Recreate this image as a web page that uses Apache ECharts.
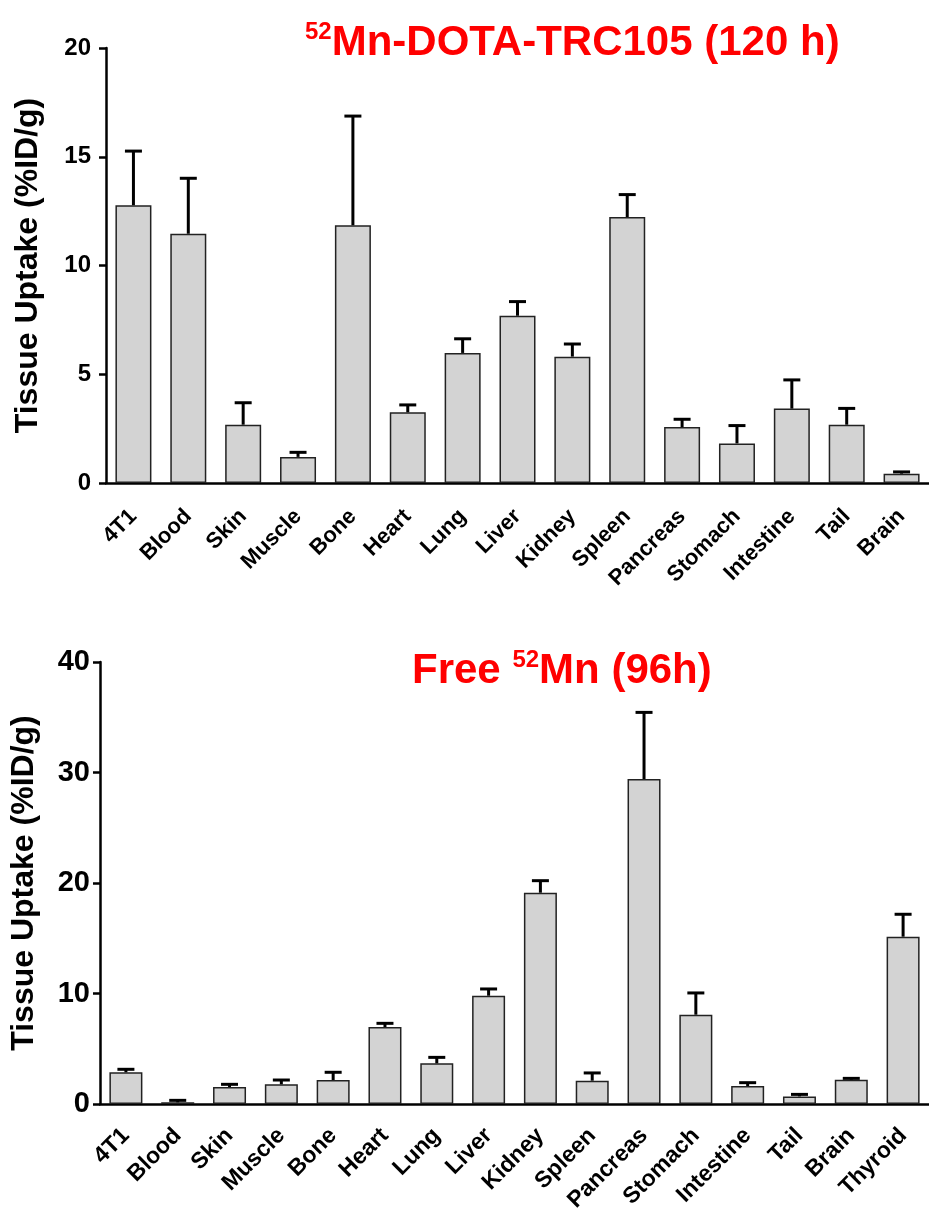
<!DOCTYPE html>
<html>
<head>
<meta charset="utf-8">
<script src="https://cdn.jsdelivr.net/npm/echarts@6/dist/echarts.min.js"></script>
<style>
  html, body { margin: 0; padding: 0; background: #fff; }
  #chart { width: 929px; height: 1216px; }
</style>
</head>
<body>
<div id="chart"></div>
<script>
  // == top panel: 52Mn-DOTA-TRC105 (120 h) ==
  const topOrgans = ['4T1', 'Blood', 'Skin', 'Muscle', 'Bone', 'Heart', 'Lung', 'Liver', 'Kidney', 'Spleen', 'Pancreas', 'Stomach', 'Intestine', 'Tail', 'Brain'];
  const topMean = [12.77, 11.46, 2.68, 1.20, 11.85, 3.25, 5.98, 7.69, 5.81, 12.23, 2.57, 1.82, 3.42, 2.68, 0.43];
  const topErr = [2.49, 2.55, 1.01, 0.21, 5.02, 0.34, 0.65, 0.65, 0.58, 1.03, 0.36, 0.82, 1.32, 0.75, 0.08];
  const topTicks = [0, 5, 10, 15, 20];

  // == bottom panel: Free 52Mn (96h) ==
  const botOrgans = ['4T1', 'Blood', 'Skin', 'Muscle', 'Bone', 'Heart', 'Lung', 'Liver', 'Kidney', 'Spleen', 'Pancreas', 'Stomach', 'Intestine', 'Tail', 'Brain', 'Thyroid'];
  const botMean = [2.87, 0.15, 1.54, 1.78, 2.17, 6.97, 3.68, 9.80, 19.12, 2.11, 29.41, 8.08, 1.63, 0.69, 2.20, 15.14];
  const botErr = [0.27, 0.18, 0.24, 0.39, 0.70, 0.33, 0.54, 0.61, 1.09, 0.70, 6.03, 1.97, 0.30, 0.18, 0.12, 2.03];
  const botTicks = [0, 10, 20, 30, 40];

  const FONT = 'Liberation Sans';
  const yName = 'Tissue Uptake (%ID/g)';

  var myChart = echarts.init(document.getElementById('chart'));

  // == [index, mean, mean + error] for the error bars ==
  function errData(mean, err) {
    return mean.map((m, i) => [i, m, m + err[i]]);
  }

  function renderErr(params, api) {
    const i = api.value(0);
    const p0 = api.coord([i, api.value(1)]);
    const p1 = api.coord([i, api.value(2)]);
    const half = 8.5;
    const style = { stroke: '#000', lineWidth: 3 };
    return {
      type: 'group',
      children: [
        { type: 'line', shape: { x1: p0[0], y1: p0[1], x2: p1[0], y2: p1[1] }, style: style },
        { type: 'line', shape: { x1: p1[0] - half, y1: p1[1], x2: p1[0] + half, y2: p1[1] }, style: style },
      ],
    };
  }

  function xAxisOpt(idx, data, size, margin) {
    return {
      type: 'category',
      gridIndex: idx,
      data: data,
      axisLine: { lineStyle: { color: '#000', width: 2.5 } },
      axisTick: { alignWithLabel: true, length: 7, lineStyle: { color: '#000', width: 2.5 } },
      axisLabel: {
        rotate: 45,
        interval: 0,
        margin: margin,
        color: '#000',
        fontFamily: FONT,
        fontWeight: 'bold',
        fontSize: size,
      },
    };
  }

  function yAxisOpt(idx, ticks, gap, size, margin) {
    return {
      type: 'value',
      gridIndex: idx,
      min: ticks[0],
      max: ticks[ticks.length - 1],
      interval: ticks[1] - ticks[0],
      name: yName,
      nameLocation: 'middle',
      nameRotate: 90,
      nameGap: gap,
      nameTextStyle: { color: '#000', fontFamily: FONT, fontWeight: 'bold', fontSize: 32 },
      splitLine: { show: false },
      axisLine: { show: true, lineStyle: { color: '#000', width: 2.5 } },
      axisTick: { show: true, length: 7, lineStyle: { color: '#000', width: 2.5 } },
      axisLabel: { margin: margin, color: '#000', fontFamily: FONT, fontWeight: 'bold', fontSize: size },
    };
  }

  const titleRich = {
    sup: { fontSize: 24, fontWeight: 'bold', fill: '#f00', fontFamily: FONT, verticalAlign: 'top', lineHeight: 46 },
    main: { fontSize: 42, fontWeight: 'bold', fill: '#f00', fontFamily: FONT, lineHeight: 46 },
  };

  const option = {
    animation: false,
    backgroundColor: '#fff',
    graphic: [
      {
        type: 'text',
        left: 305,
        top: 20,
        style: { text: '{sup|52}{main|Mn-DOTA-TRC105 (120 h)}', rich: titleRich },
      },
      {
        type: 'text',
        left: 412,
        top: 648,
        style: { text: '{main|Free }{sup|52}{main|Mn (96h)}', rich: titleRich },
      },
    ],
    grid: [
      { left: 106, top: 48, width: 830, height: 435 },
      { left: 100, top: 662, width: 835, height: 442 },
    ],
    xAxis: [xAxisOpt(0, topOrgans, 22, 30), xAxisOpt(1, botOrgans, 23, 28)],
    yAxis: [yAxisOpt(0, topTicks, 62, 24, 15), yAxisOpt(1, botTicks, 60, 29, 10)],
    series: [
      {
        type: 'bar',
        xAxisIndex: 0,
        yAxisIndex: 0,
        data: topMean,
        barWidth: 36,
        itemStyle: { color: '#d3d3d3', borderColor: '#222', borderWidth: 1.5 },
      },
      {
        type: 'custom',
        xAxisIndex: 0,
        yAxisIndex: 0,
        data: errData(topMean, topErr),
        renderItem: renderErr,
        z: 3,
      },
      {
        type: 'bar',
        xAxisIndex: 1,
        yAxisIndex: 1,
        data: botMean,
        barWidth: 33,
        itemStyle: { color: '#d3d3d3', borderColor: '#222', borderWidth: 1.5 },
      },
      {
        type: 'custom',
        xAxisIndex: 1,
        yAxisIndex: 1,
        data: errData(botMean, botErr),
        renderItem: renderErr,
        z: 3,
      },
    ],
  };

  option && myChart.setOption(option);
</script>
</body>
</html>
